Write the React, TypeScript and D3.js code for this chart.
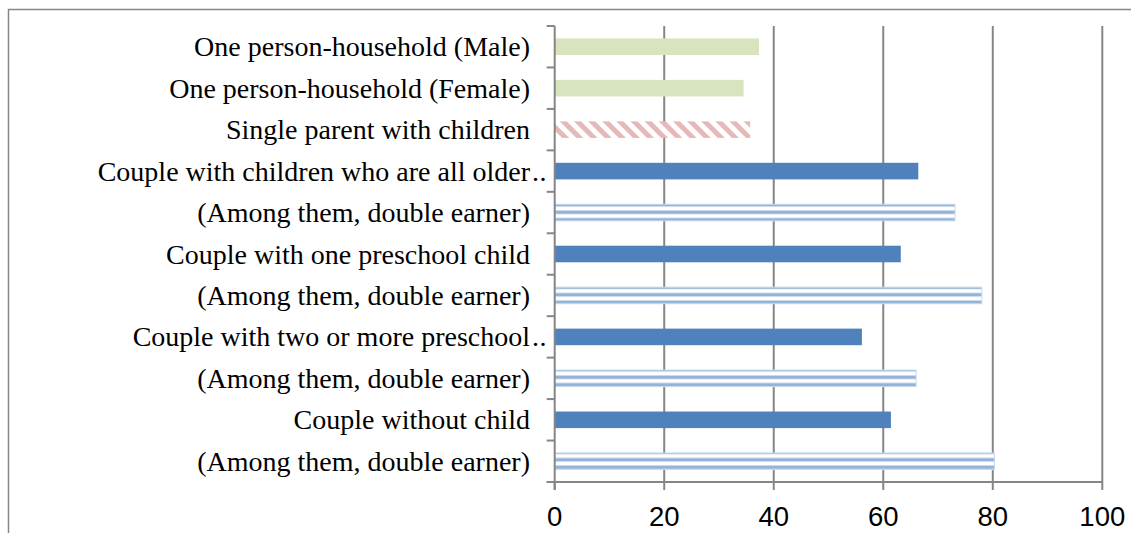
import React from "react";
import * as d3 from "d3";

const categories = [
  "One person-household (Male)",
  "One person-household (Female)",
  "Single parent with children",
  "Couple with children who are all older…",
  "(Among them, double earner)",
  "Couple with one preschool child",
  "(Among them, double earner)",
  "Couple with two or more preschool…",
  "(Among them, double earner)",
  "Couple without child",
  "(Among them, double earner)",
];
const values = [37.3, 34.5, 35.7, 66.4, 73.1, 63.2, 78.0, 56.1, 66.0, 61.4, 80.3];
const kinds = [
  "single",
  "single",
  "singleParent",
  "couple",
  "doubleEarner",
  "couple",
  "doubleEarner",
  "couple",
  "doubleEarner",
  "couple",
  "doubleEarner",
];
const tickValues = [0, 20, 40, 60, 80, 100];

const W = 1131;
const H = 533;
const plot = { left: 554.7, right: 1102.3, top: 26, bottom: 482 };
const gridColor = "#868686";

const fills: Record<string, string> = {
  single: "#D7E4BD",
  singleParent: "url(#diag)",
  couple: "#4F81BD",
  doubleEarner: "url(#hstripe)",
};

export default function App() {
  const x = d3.scaleLinear().domain([0, 100]).range([plot.left, plot.right]);
  const y = d3
    .scaleBand<number>()
    .domain(d3.range(categories.length))
    .range([plot.top, plot.bottom])
    .paddingInner(0.6)
    .paddingOuter(0.3);
  const step = y.step();
  const boundaries = d3.range(categories.length + 1).map((i) => plot.top + i * step);

  return (
    <svg
      width={W}
      height={H}
      style={{ position: "absolute", left: 0, top: 0, background: "#fff" }}
    >
      <defs>
        <pattern
          id="diag"
          patternUnits="userSpaceOnUse"
          width={10}
          height={10}
          patternTransform="rotate(-45)"
        >
          <rect width={10} height={10} fill="#fff" />
          <rect width={5} height={10} fill="#E6B9B8" />
        </pattern>
        <pattern id="hstripe" patternUnits="userSpaceOnUse" width={10} height={7.5}>
          <rect width={10} height={7.5} fill="#fff" />
          <rect y={0.5} width={10} height={3.5} fill="#95B3D7" />
        </pattern>
      </defs>
      <rect x={8.5} y={9.5} width={W} height={H} fill="#fff" stroke={gridColor} strokeWidth={1.5} />

      {/* gridlines */}
      {tickValues.slice(1).map((t) => (
        <line
          key={"g" + t}
          x1={x(t)}
          x2={x(t)}
          y1={plot.top}
          y2={plot.bottom}
          stroke={gridColor}
          strokeWidth={2}
        />
      ))}

      {/* bars */}
      {values.map((v, i) => {
        const k = kinds[i];
        const yy = y(i)!;
        return (
          <rect
            key={"b" + i}
            x={x(0)}
            y={yy}
            width={x(v) - x(0)}
            height={y.bandwidth()}
            fill={fills[k]}
            stroke={k === "doubleEarner" ? "#C6D9F1" : "none"}
            strokeWidth={k === "doubleEarner" ? 1 : 0}
          />
        );
      })}

      {/* axes */}
      <line x1={plot.left} x2={plot.left} y1={plot.top} y2={plot.bottom + 8} stroke={gridColor} strokeWidth={2} />
      <line x1={plot.left - 8} x2={plot.right} y1={plot.bottom} y2={plot.bottom} stroke={gridColor} strokeWidth={2} />
      {boundaries.map((b, i) => (
        <line key={"lt" + i} x1={plot.left - 8} x2={plot.left} y1={b} y2={b} stroke={gridColor} strokeWidth={2} />
      ))}
      {tickValues.map((t) => (
        <line key={"bt" + t} x1={x(t)} x2={x(t)} y1={plot.bottom} y2={plot.bottom + 8} stroke={gridColor} strokeWidth={2} />
      ))}

      {/* tick labels */}
      {tickValues.map((t) => (
        <text
          key={"tl" + t}
          x={x(t)}
          y={526}
          textAnchor="middle"
          fontFamily="'Liberation Sans', Arial, sans-serif"
          fontSize={27.5}
          fill="#000"
        >
          {t}
        </text>
      ))}

      {/* category labels */}
      {categories.map((c, i) => {
        const cy = y(i)! + y.bandwidth() / 2 + 9.5;
        const truncated = c.endsWith("…");
        const main = truncated ? c.slice(0, -1) : c;
        return (
          <g key={"cl" + i} fontFamily="'Liberation Serif', 'Times New Roman', serif" fontSize={28} fill="#000">
            <text x={530} y={cy} textAnchor="end">
              {main}
            </text>
            {truncated && (
              <text x={532} y={cy} letterSpacing={0.5}>
                ..
              </text>
            )}
          </g>
        );
      })}
    </svg>
  );
}
